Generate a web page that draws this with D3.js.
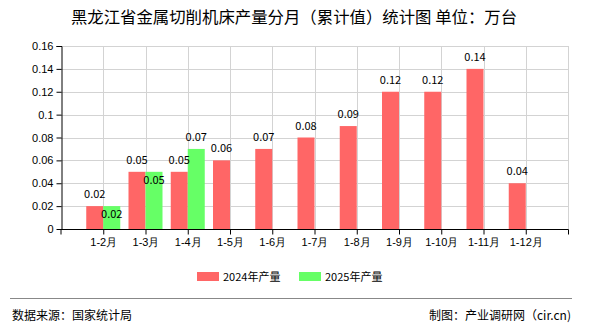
<!DOCTYPE html>
<html><head><meta charset="utf-8">
<script src="https://cdn.jsdelivr.net/npm/d3@7"></script>
<style>
body{margin:0;background:#fff;}
svg{display:block;font-family:"Noto Sans CJK SC","DejaVu Sans",sans-serif;}
</style></head>
<body>
<svg id="chart" width="590" height="330"></svg>
<script>
// Cumulative monthly output, unit: 10k machines
const categories = ["1-2月","1-3月","1-4月","1-5月","1-6月","1-7月","1-8月","1-9月","1-10月","1-11月","1-12月"];
const values2024 = [0.02,0.05,0.05,0.06,0.07,0.08,0.09,0.12,0.12,0.14,0.04];
const values2025 = [0.02,0.05,0.07];
const yTicks = [0,0.02,0.04,0.06,0.08,0.1,0.12,0.14,0.16];
const seriesNames = ["2024年产量","2025年产量"];
const colors = ["#ff6666","#66ff66"];

const svg = d3.select("#chart");
const m = {left:61, right:568, top:46, bottom:229};

const x = d3.scalePoint().domain(categories).range([m.left, m.right]).padding(1);
const y = d3.scaleLinear().domain([0,0.16]).range([m.bottom, m.top]);
const barW = 17;

// title
svg.append("text").attr("x",294).attr("y",23).attr("text-anchor","middle")
  .attr("font-size",16.4).attr("fill","#000")
  .text("黑龙江省金属切削机床产量分月（累计值）统计图 单位：万台");

// grid
const grid = svg.append("g").attr("stroke","#d3d3d3").attr("stroke-width",1);
yTicks.filter(d=>d>0).forEach(t=>{
  grid.append("line").attr("x1",m.left).attr("x2",m.right)
    .attr("y1",Math.round(y(t))+0.5).attr("y2",Math.round(y(t))+0.5);
});
categories.forEach(c=>{
  grid.append("line").attr("x1",Math.round(x(c))+0.5).attr("x2",Math.round(x(c))+0.5)
    .attr("y1",m.top).attr("y2",m.bottom);
});
grid.append("line").attr("x1",m.right+0.5).attr("x2",m.right+0.5).attr("y1",m.top).attr("y2",m.bottom);

// bars
const bars = svg.append("g");
bars.selectAll("rect.s24").data(values2024).join("rect")
  .attr("x",(d,i)=>x(categories[i])-barW).attr("width",barW)
  .attr("y",d=>y(d)).attr("height",d=>y(0)-y(d)).attr("fill",colors[0]);
bars.selectAll("rect.s25").data(values2025).join("rect")
  .attr("x",(d,i)=>x(categories[i])).attr("width",barW)
  .attr("y",d=>y(d)).attr("height",d=>y(0)-y(d)).attr("fill",colors[1]);

// value labels
const lab = svg.append("g").attr("font-size",11).attr("fill","#000").attr("text-anchor","middle");
values2024.forEach((d,i)=>{
  lab.append("text").attr("x",x(categories[i])-barW/2).attr("y",y(d)-8).text(d);
});
values2025.forEach((d,i)=>{
  const clash = values2024[i] === d;
  lab.append("text").attr("x",x(categories[i])+barW/2)
    .attr("y",clash ? y(d)+12 : y(d)-8).text(d);
});

// axes
const yAxis = d3.axisLeft(y).tickValues(yTicks).tickSize(5).tickPadding(3).tickFormat(d=>d);
const gy = svg.append("g").attr("transform",`translate(${m.left+0.5},0)`).call(yAxis);
gy.select(".domain").attr("stroke","#000").attr("d",`M-5,${m.top+0.5}H0.5V${m.bottom+0.5}`);
gy.selectAll(".tick line").attr("stroke","#000");
gy.selectAll("text").attr("font-size",11).attr("fill","#000").attr("font-family",null);

const xAxis = d3.axisBottom(x).tickSize(5).tickPadding(4);
const gx = svg.append("g").attr("transform",`translate(0,${m.bottom+0.5})`).call(xAxis);
gx.select(".domain").attr("stroke","#000").attr("d",`M${m.left},5V0H${m.right+0.5}V5`);
gx.selectAll(".tick line").attr("stroke","#000");
gx.selectAll("text").attr("font-size",11).attr("fill","#000").attr("font-family",null);

// legend
const leg = svg.append("g").attr("font-size",11);
const legX = [197,299];
seriesNames.forEach((n,i)=>{
  leg.append("rect").attr("x",legX[i]).attr("y",272).attr("width",22).attr("height",9).attr("fill",colors[i]);
  leg.append("text").attr("x",legX[i]+26).attr("y",281).text(n);
});

// footer
svg.append("line").attr("x1",10).attr("x2",572).attr("y1",298.5).attr("y2",298.5)
  .attr("stroke","#888").attr("stroke-width",1);
svg.append("text").attr("x",12).attr("y",320).attr("font-size",12).text("数据来源：国家统计局");
svg.append("text").attr("x",571).attr("y",320).attr("font-size",12).attr("text-anchor","end")
  .text("制图：产业调研网（cir.cn)");
</script>
</body></html>
